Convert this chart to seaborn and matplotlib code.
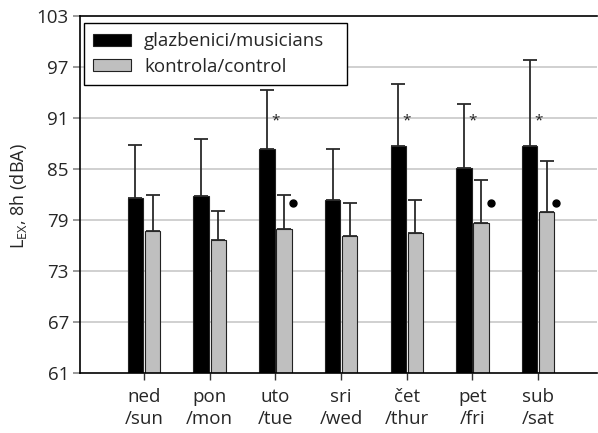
import matplotlib
matplotlib.use("Agg")
import matplotlib.pyplot as plt
import seaborn as sns
import pandas as pd
import numpy as np

days = ["ned\n/sun", "pon\n/mon", "uto\n/tue", "sri\n/wed", "čet\n/thur", "pet\n/fri", "sub\n/sat"]
groups = ["glazbenici/musicians", "kontrola/control"]
musicians = [81.6, 81.8, 87.3, 81.3, 87.7, 85.1, 87.7]
musicians_err_top = [87.8, 88.5, 94.3, 87.3, 95.0, 92.6, 97.8]
control = [77.7, 76.7, 77.9, 77.1, 77.5, 78.6, 79.9]
control_err_top = [82.0, 80.1, 82.0, 81.0, 81.4, 83.7, 85.9]
star_days = ["uto\n/tue", "čet\n/thur", "pet\n/fri", "sub\n/sat"]
star_level = 90.7
dot_days = ["uto\n/tue", "pet\n/fri", "sub\n/sat"]
dot_level = 81.0
yticks = [61, 67, 73, 79, 85, 91, 97, 103]

sns.set_theme(style="white")
plt.rcParams['font.family'] = ['Open Sans', 'DejaVu Sans']

df = pd.DataFrame({
    "day": days * 2,
    "group": [groups[0]] * 7 + [groups[1]] * 7,
    "value": musicians + control,
})

fig = plt.figure(figsize=(5.98, 4.33), dpi=100)
ax = fig.add_axes([80/598, 60/433, 517/598, 357/433])

ax.set_ylim(61, 103)
ax.set_yticks(yticks)
for t in yticks[1:-1]:
    ax.axhline(t, color="#c8c8c8", lw=1.2, zorder=0)

sns.barplot(data=df, x="day", y="value", hue="group", order=days, hue_order=groups,
            palette=["#000000", "#bfbfbf"], width=0.52, gap=0.1, errorbar=None,
            edgecolor="#222222", linewidth=0.8, ax=ax, zorder=2)

ax.set_ylim(61, 103)
ax.set_xlim(-0.974, 6.895)

# error bars from bar patches
patches = [p for p in ax.patches if p.get_width() > 0]
tops = musicians_err_top + control_err_top
vals = musicians + control
for p, v, top in zip(patches, vals, tops):
    xc = p.get_x() + p.get_width() / 2
    ax.errorbar([xc], [v], yerr=[[0], [top - v]], fmt="none", ecolor="#2a2a2a",
                elinewidth=1.3, capsize=5, capthick=1.3, zorder=3)

pos = {d: i for i, d in enumerate(days)}
for d in star_days:
    ax.text(pos[d], star_level, "*", ha="center", va="center", fontsize=11, color="#222222")
for d in dot_days:
    ax.plot(pos[d] + 0.275, dot_level, "o", color="black", ms=5, zorder=4)

ax.set_xlabel("")
ax.set_ylabel(r"L$_\mathregular{EX}$, 8h (dBA)", fontsize=13)
ax.yaxis.set_label_coords(-0.099, 0.494)

for s in ["left", "bottom", "top"]:
    ax.spines[s].set_color("black")
    ax.spines[s].set_linewidth(1.2)
ax.spines["right"].set_visible(False)

ax.tick_params(axis="y", which="both", left=True, length=5, width=1.2, color="#888888",
               labelsize=13.5, pad=3)
ax.tick_params(axis="x", bottom=True, length=5, width=1, color="#333333", labelsize=13.5, pad=6)
for lab in ax.get_xticklabels():
    lab.set_linespacing(1.3)

leg = ax.legend(loc="upper left", bbox_to_anchor=(0.0077, 0.5, 0.509, 0.481), mode="expand",
                frameon=True, fancybox=False,
                edgecolor="black", framealpha=1, fontsize=13.5, handlelength=2.0, handleheight=0.6,
                borderpad=0.5, labelspacing=0.4, handletextpad=0.7, borderaxespad=0, title=None)
leg.get_frame().set_linewidth(1.0)

fig.savefig("out.png", dpi=100)
